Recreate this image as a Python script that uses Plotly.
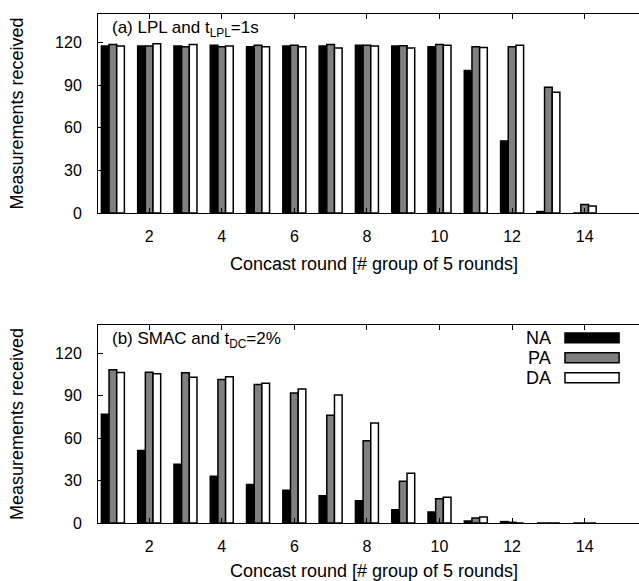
import plotly.graph_objects as go

rounds = list(range(1, 15))
x_ticks = [2, 4, 6, 8, 10, 12, 14]
y_ticks = [0, 30, 60, 90, 120]

# Panel (a): LPL and t_LPL = 1s
lpl_na = [117.5, 117.5, 117.5, 118.0, 117.0, 117.5, 117.5, 118.0, 117.5, 117.0, 100.3, 50.7, 1.0, 0.0]
lpl_pa = [118.5, 117.5, 117.0, 117.0, 118.0, 118.0, 118.5, 118.0, 117.7, 118.5, 117.0, 117.0, 88.5, 6.0]
lpl_da = [117.5, 119.0, 118.5, 117.5, 117.0, 117.0, 116.0, 117.5, 116.0, 118.0, 116.5, 118.0, 85.0, 5.0]

# Panel (b): SMAC and t_DC = 2%
smac_na = [76.9, 51.3, 41.5, 33.0, 27.2, 23.2, 19.2, 15.7, 9.4, 7.7, 1.4, 1.0, 0.0, 0.0]
smac_pa = [108.3, 106.6, 106.2, 101.5, 98.0, 91.9, 76.2, 58.1, 29.5, 17.1, 3.5, 0.5, 0.0, 0.0]
smac_da = [106.4, 105.5, 103.1, 103.4, 98.9, 94.7, 90.5, 70.8, 35.1, 18.3, 4.2, 0.0, 0.0, 0.0]

series_names = ["NA", "PA", "DA"]
series_colors = ["#000000", "#808080", "#ffffff"]

FONT = "Liberation Sans, Arial, Helvetica, sans-serif"

fig = go.Figure()
for vals, name, col in zip([lpl_na, lpl_pa, lpl_da], series_names, series_colors):
    fig.add_trace(go.Bar(x=rounds, y=vals, name=name, marker=dict(color=col, line=dict(color="black", width=1.5)),
                         xaxis="x", yaxis="y", showlegend=False))
for vals, name, col in zip([smac_na, smac_pa, smac_da], series_names, series_colors):
    fig.add_trace(go.Bar(x=rounds, y=vals, name=name, marker=dict(color=col, line=dict(color="black", width=1.5)),
                         xaxis="x2", yaxis="y2", showlegend=False))

# the original frame runs past the right edge of the picture, so the figure is a bit wider than the window
xcommon = dict(range=[0.59, 15.80], tickvals=x_ticks, ticks="inside", ticklen=5, tickcolor="black",
               showline=True, linecolor="black", linewidth=1, mirror="ticks", showgrid=False, zeroline=False,
               tickfont=dict(family=FONT, size=16, color="black"), ticklabelstandoff=9, automargin=False,
               title=dict(text="Concast round [# group of 5 rounds]", font=dict(family=FONT, size=18, color="black"), standoff=13))
ycommon = dict(range=[0, 140], tickvals=y_ticks, ticks="inside", ticklen=5, tickcolor="black",
               showline=True, linecolor="black", linewidth=1, mirror="ticks", showgrid=False, zeroline=False,
               tickfont=dict(family=FONT, size=16, color="black"), ticklabelstandoff=12, automargin=False,
               title=dict(text="Measurements received", font=dict(family=FONT, size=18, color="black"), standoff=26))

fig.update_layout(
    width=650, height=581,
    margin=dict(l=98, r=0, t=0, b=0, autoexpand=False),
    paper_bgcolor="white", plot_bgcolor="white",
    barmode="group", bargap=0.366, bargroupgap=0,
    xaxis=dict(xcommon, domain=[0, 1], anchor="y"),
    yaxis=dict(ycommon, domain=[0.6334, 0.9759], anchor="x"),
    xaxis2=dict(xcommon, domain=[0, 1], anchor="y2"),
    yaxis2=dict(ycommon, domain=[0.0998, 0.4406], anchor="x2"),
    font=dict(family=FONT, color="black"),
)

fig.add_annotation(text="(a) LPL and t<sub>LPL</sub>=1s", xref="x domain", yref="y domain",
                   x=0.0216, y=0.99, xanchor="left", yanchor="top", showarrow=False,
                   font=dict(family=FONT, size=17, color="black"))
fig.add_annotation(text="(b) SMAC and t<sub>DC</sub>=2%", xref="x2 domain", yref="y2 domain",
                   x=0.0216, y=0.99, xanchor="left", yanchor="top", showarrow=False,
                   font=dict(family=FONT, size=17, color="black"))

# Legend (drawn like gnuplot's key: label left of a wide sample box)
leg_rows = [0.935, 0.835, 0.734]
for name, col, yc in zip(series_names, series_colors, leg_rows):
    fig.add_annotation(text=name, xref="x2 domain", yref="y2 domain", x=0.824, y=yc,
                       xanchor="right", yanchor="middle", showarrow=False,
                       font=dict(family=FONT, size=18, color="black"))
    fig.add_shape(type="rect", xref="x2 domain", yref="y2 domain", x0=0.846, x1=0.944,
                  y0=yc - 0.025, y1=yc + 0.025, fillcolor=col, line=dict(color="black", width=1.5))

fig.write_html("out.html", config={"displayModeBar": False},
               post_script="document.body.style.margin='0';document.body.style.overflow='hidden';")
